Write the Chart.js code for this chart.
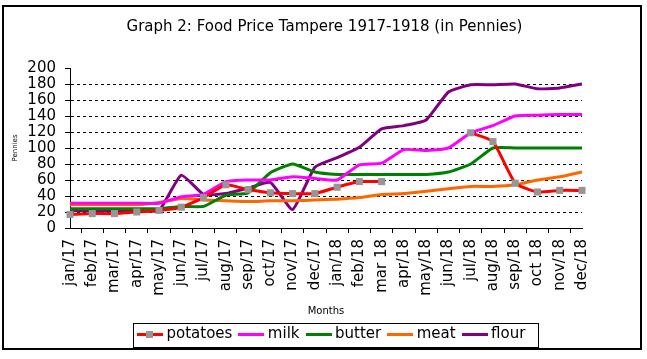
<!DOCTYPE html>
<html>
<head>
<meta charset="utf-8">
<title>Food Price Tampere 1917-1918</title>
<script src="https://cdn.jsdelivr.net/npm/chart.js@4.4.1/dist/chart.umd.min.js"></script>
<style>
  html, body { margin: 0; padding: 0; background: #fff; }
  #chart { display: block; }
</style>
</head>
<body>
<canvas id="chart" width="647" height="359"></canvas>
<script>
/* Graph 2: food prices in Tampere, monthly, in pennies */
const months = ['jan/17','feb/17','mar/17','apr/17','may/17','jun/17','jul/17','aug/17','sep/17','oct/17','nov/17','dec/17',
                'jan/18','feb/18','mar 18','apr/18','may/18','jun/18','jul/18','aug/18','sep/18','oct 18','nov/18','dec/18'];
const potatoes = [17,18,18,20,22,26,38,54,48,44,43,43,51,58,58,null,null,null,119,108,56,45,47,47];
const milk     = [31,31,31,31,31,39,42,58,60,60,64,62,60,79,81,98,97,100,119,128,140,141,142,142];
const butter   = [24,24,24,24,24,27,27,41,44,69,80,70,67,67,67,67,67,70,80,100,100,100,100,100];
const meat     = [29,29,29,29,32,37,35,34,33,34,34,35,36,38,42,43,46,49,52,52,54,60,64,70];
const flour    = [22,22,22,22,22,66,42,43,50,57,23,76,88,101,124,128,135,170,179,179,180,174,175,180];
const yTicks = [0,20,40,60,80,100,120,140,160,180,200];

const FONT = 'DejaVu Sans';
const colors = { potatoes: '#ff0000', milk: '#ff00ff', butter: '#008000', meat: '#ff6600', flour: '#800080' };
const markerGray = '#969696';

// small line sample used as legend symbol (potatoes gets its marker too)
function legendIcon(color, withMarker) {
  const c = document.createElement('canvas');
  c.width = 26; c.height = 9;
  const g = c.getContext('2d');
  g.fillStyle = color;
  g.fillRect(0, 3, 26, 3);
  if (withMarker) {
    g.fillStyle = markerGray;
    g.fillRect(9, 1, 7, 7);
  }
  return c;
}

function line(label, data, color) {
  return {
    label, data,
    borderColor: color, backgroundColor: color,
    borderWidth: 3, pointRadius: 0, pointHoverRadius: 0,
    tension: 0.15, fill: false
  };
}

const datasets = [
  Object.assign(line('potatoes', potatoes, colors.potatoes), {
    pointRadius: 5, pointStyle: 'rect',
    pointBackgroundColor: markerGray, pointBorderColor: markerGray, pointBorderWidth: 0
  }),
  line('milk', milk, colors.milk),
  line('butter', butter, colors.butter),
  line('meat', meat, colors.meat),
  line('flour', flour, colors.flour)
];
const icons = datasets.map((d, i) => legendIcon(d.borderColor, i === 0));

// places the legend row and draws the boxes round legend and chart
const frames = {
  id: 'frames',
  beforeDraw(chart) {
    const lg = chart.legend;
    if (!lg || !lg.legendHitBoxes.length) return;
    const dx = 141 - lg.legendHitBoxes[0].left;
    lg.left += dx; lg.right += dx;
    lg.legendHitBoxes.forEach(h => { h.left += dx; });
  },
  afterDraw(chart) {
    const ctx = chart.ctx;
    const hb = chart.legend.legendHitBoxes;
    ctx.save();
    ctx.strokeStyle = '#000';
    if (hb.length) {
      const first = hb[0], last = hb[hb.length - 1];
      const yc = first.top + first.height / 2;
      ctx.lineWidth = 1;
      ctx.strokeRect(Math.round(first.left - 8) + 0.5, Math.round(yc - 12) + 0.5,
                     Math.round(last.left + last.width + 13 - (first.left - 8)), 24);
    }
    ctx.lineWidth = 2;
    ctx.strokeRect(3, 6, 638, 343);
    ctx.restore();
  }
};

new Chart(document.getElementById('chart'), {
  type: 'line',
  data: { labels: months, datasets },
  plugins: [frames],
  options: {
    responsive: false,
    animation: false,
    devicePixelRatio: 1,
    layout: { padding: { left: 7, right: 5, top: 0, bottom: 7 } },
    plugins: {
      title: {
        display: true,
        text: 'Graph 2: Food Price Tampere 1917-1918 (in Pennies)',
        color: '#000',
        font: { family: FONT, size: 15, weight: 'normal' },
        padding: { top: 18, bottom: 32 }
      },
      legend: {
        position: 'bottom',
        labels: {
          color: '#000',
          font: { family: FONT, size: 15 },
          usePointStyle: true,
          pointStyleWidth: 18,
          padding: 10,
          generateLabels(chart) {
            const items = Chart.defaults.plugins.legend.labels.generateLabels(chart);
            items.forEach((it, i) => { it.pointStyle = icons[i]; });
            return items;
          }
        }
      },
      tooltip: { enabled: false }
    },
    scales: {
      x: {
        grid: { offset: true, drawOnChartArea: false, drawTicks: true, tickLength: 5, tickColor: '#000' },
        border: { color: '#000', width: 1 },
        ticks: { color: '#000', font: { family: FONT, size: 15 }, maxRotation: 90, minRotation: 90, padding: 6, autoSkip: false },
        title: { display: true, text: 'Months', color: '#000', font: { family: FONT, size: 10 }, padding: { top: 4, bottom: 0 } },
        afterFit(s) { s.height = 89; }
      },
      y: {
        min: 0, max: 200,
        afterBuildTicks(s) { s.ticks = yTicks.map(v => ({ value: v })); },
        grid: {
          color: c => (c.tick && (c.tick.value === 0 || c.tick.value === 200)) ? 'rgba(0,0,0,0)' : '#000',
          lineWidth: 1, tickLength: 5, tickColor: '#000'
        },
        border: { color: '#000', width: 1, dash: [3, 3] },
        ticks: { color: '#000', font: { family: FONT, size: 15 }, padding: 9, autoSkip: false },
        title: { display: true, text: 'Pennies', color: '#000', font: { family: FONT, size: 7 }, padding: { top: 4, bottom: 0 } },
        afterFit(s) { s.width = 63; }
      },
      yRight: {
        position: 'right',
        grid: { display: false },
        border: { display: false },
        ticks: { display: false },
        afterFit(s) { s.width = 60; }
      }
    }
  }
});
</script>
</body>
</html>
